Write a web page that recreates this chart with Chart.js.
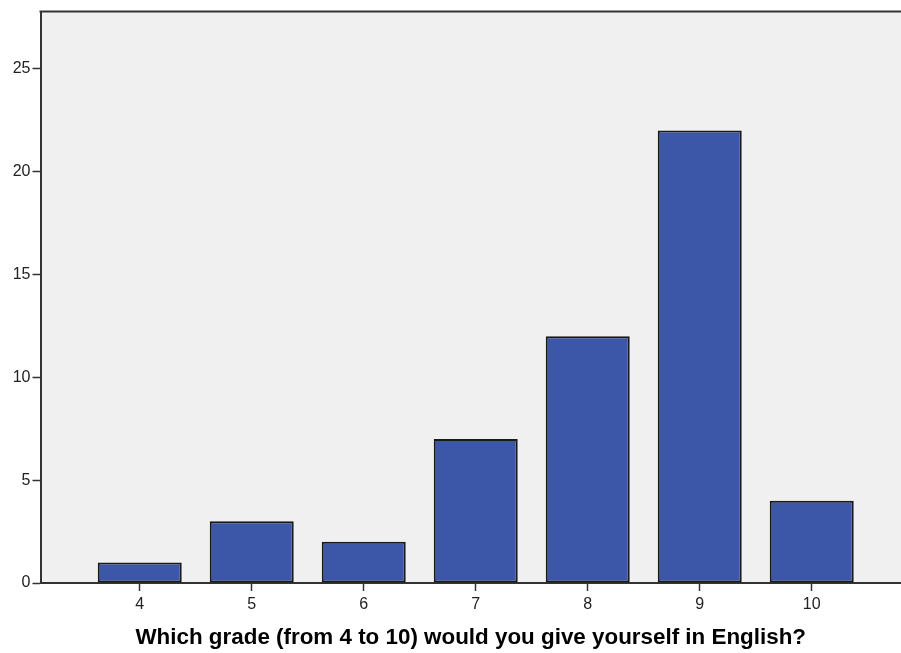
<!DOCTYPE html>
<html>
<head>
<meta charset="utf-8">
<script src="https://cdn.jsdelivr.net/npm/chart.js@4/dist/chart.umd.min.js"></script>
<style>
  html, body { margin: 0; padding: 0; background: #ffffff; overflow: hidden; }
  #wrap { width: 901px; height: 653px; position: relative; }
</style>
</head>
<body>
<div id="wrap"><canvas id="c" width="901" height="653"></canvas></div>
<script>
const grades = [4, 5, 6, 7, 8, 9, 10];
const counts = [1, 3, 2, 7, 12, 22, 4];
const yTicks = [0, 5, 10, 15, 20, 25];
const xTitle = 'Which grade (from 4 to 10) would you give yourself in English?';

const plotFrame = {
  id: 'plotFrame',
  beforeDraw(chart) {
    const {ctx, chartArea: a} = chart;
    ctx.save();
    ctx.fillStyle = '#f0f0f0';
    ctx.fillRect(a.left, a.top, a.right - a.left, a.bottom - a.top);
    ctx.restore();
  },
  afterDraw(chart) {
    const {ctx, chartArea: a} = chart;
    ctx.save();
    ctx.strokeStyle = '#333333';
    ctx.lineWidth = 2;
    ctx.beginPath();
    ctx.moveTo(a.left - 1, a.top);
    ctx.lineTo(a.right, a.top);
    ctx.stroke();
    ctx.restore();
  }
};

new Chart(document.getElementById('c'), {
  type: 'bar',
  data: {
    datasets: [{
      data: grades.map((g, i) => ({x: g, y: counts[i]})),
      backgroundColor: '#3c56a8',
      borderColor: '#1a1a1a',
      borderWidth: 2,
      borderSkipped: false,
      barPercentage: 0.75,
      categoryPercentage: 1.0
    }]
  },
  options: {
    responsive: false,
    devicePixelRatio: 1,
    animation: false,
    layout: { padding: { top: 11, left: 0, right: 0, bottom: 0 } },
    plugins: { legend: { display: false }, tooltip: { enabled: false } },
    scales: {
      x: {
        type: 'linear',
        min: 3.114,
        max: 10.797,
        offset: false,
        afterFit(s) { s.height = 70; },
        afterBuildTicks(s) { s.ticks = grades.map(v => ({value: v})); },
        grid: { display: true, offset: false, drawOnChartArea: false, drawTicks: true, tickLength: 8, tickColor: '#333333', tickWidth: 1.5 },
        border: { display: true, color: '#333333', width: 2 },
        ticks: { padding: 4, color: '#222222', font: { family: 'Liberation Sans', size: 16 }, maxRotation: 0, autoSkip: false },
        title: { display: true, text: xTitle, color: '#000000', font: { family: 'Liberation Sans', size: 22.4, weight: 'bold' }, padding: { top: 0, bottom: 1.5 } }
      },
      y: {
        min: 0,
        max: 27.78,
        afterFit(s) { s.width = 40.5; },
        afterBuildTicks(s) { s.ticks = yTicks.map(v => ({value: v})); },
        grid: { display: true, drawOnChartArea: false, drawTicks: true, tickLength: 8, tickColor: '#333333', tickWidth: 1.5 },
        border: { display: true, color: '#333333', width: 2 },
        ticks: { padding: 2, color: '#222222', font: { family: 'Liberation Sans', size: 16 } }
      }
    }
  },
  plugins: [plotFrame]
});
</script>
</body>
</html>
